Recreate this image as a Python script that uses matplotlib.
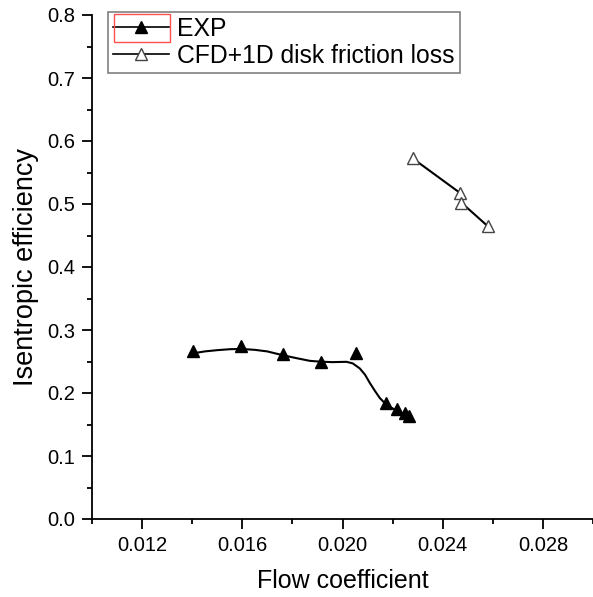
import matplotlib.pyplot as plt
from matplotlib.patches import Rectangle
from matplotlib.ticker import MultipleLocator, FormatStrFormatter

plt.rcParams['font.family'] = ['Liberation Sans', 'DejaVu Sans']

# measured points
exp_x = [0.01404, 0.01595, 0.01761, 0.01913, 0.02052, 0.02172, 0.02216, 0.02249, 0.02265]
exp_y = [0.2667, 0.2746, 0.2619, 0.2492, 0.2635, 0.1841, 0.1746, 0.1683, 0.1635]

# smoothed curve through the EXP points
exp_curve_x = [0.01404, 0.01450, 0.01500, 0.01550, 0.01595, 0.01650, 0.01700, 0.01761,
               0.01820, 0.01870, 0.01913, 0.01960, 0.02016, 0.02041, 0.02069, 0.02090,
               0.02109, 0.02130, 0.02149, 0.02176, 0.02216, 0.02262]
exp_curve_y = [0.263, 0.266, 0.268, 0.2695, 0.270, 0.2685, 0.266, 0.260,
               0.255, 0.251, 0.2497, 0.249, 0.2495, 0.247, 0.239, 0.229,
               0.216, 0.203, 0.192, 0.181, 0.172, 0.163]

cfd_x = [0.02280, 0.02468, 0.02475, 0.02579]
cfd_y = [0.5725, 0.5179, 0.5020, 0.4651]

fig = plt.figure(figsize=(5.93, 5.97), dpi=100)
ax = fig.add_axes([92 / 593, 1 - 519 / 597, 501 / 593, 504 / 597])

ax.plot(exp_curve_x, exp_curve_y, color='black', lw=1.5, zorder=2)
ax.plot(exp_x, exp_y, ls='none', marker='^', ms=9, color='black', zorder=3)
ax.plot(cfd_x, cfd_y, color='black', lw=1.5, zorder=2)
ax.plot(cfd_x, cfd_y, ls='none', marker='^', ms=9, mfc='white', mec='#444444',
        mew=1.0, zorder=3)

# legend proxies
h1, = ax.plot([], [], color='black', lw=1.2, marker='^', ms=9, mfc='black', mec='black')
h2, = ax.plot([], [], color='black', lw=1.2, marker='^', ms=9, mfc='white', mec='#444444')
leg = ax.legend([h1, h2], ['EXP', 'CFD+1D disk friction loss'], loc='upper left',
                bbox_to_anchor=(0.032, 1.006), borderaxespad=0, fontsize=17.8,
                handlelength=2.27, handletextpad=0.33, labelspacing=0.12,
                borderpad=0.2, fancybox=False, framealpha=1, edgecolor='#808080')
leg.get_frame().set_linewidth(1.2)

# red selection box around first legend handle
fig.patches.append(Rectangle((114 / 593, 1 - 42 / 597), 56 / 593, 28 / 597,
                             transform=fig.transFigure, fill=False,
                             edgecolor='#ff5050', lw=1.0, zorder=5))

ax.set_xlim(0.010, 0.030)
ax.set_ylim(0.0, 0.8)
ax.xaxis.set_minor_locator(MultipleLocator(0.002))
ax.yaxis.set_major_locator(MultipleLocator(0.1))
ax.yaxis.set_minor_locator(MultipleLocator(0.05))
ax.xaxis.set_major_formatter(FormatStrFormatter('%.3f'))
ax.yaxis.set_major_formatter(FormatStrFormatter('%.1f'))
ax.set_xticks([0.012, 0.016, 0.020, 0.024, 0.028])

for s in ['top', 'right']:
    ax.spines[s].set_visible(False)
for s in ['left', 'bottom']:
    ax.spines[s].set_linewidth(1.3)
ax.tick_params(which='major', direction='out', length=7, width=1.3, labelsize=14.5, pad=5)
ax.tick_params(which='minor', direction='out', length=3.6, width=1.3)

ax.set_xlabel('Flow coefficient', fontsize=18, labelpad=10)
ax.set_ylabel('Isentropic efficiency', fontsize=19.5, labelpad=6)

fig.savefig('out.png', dpi=100)
